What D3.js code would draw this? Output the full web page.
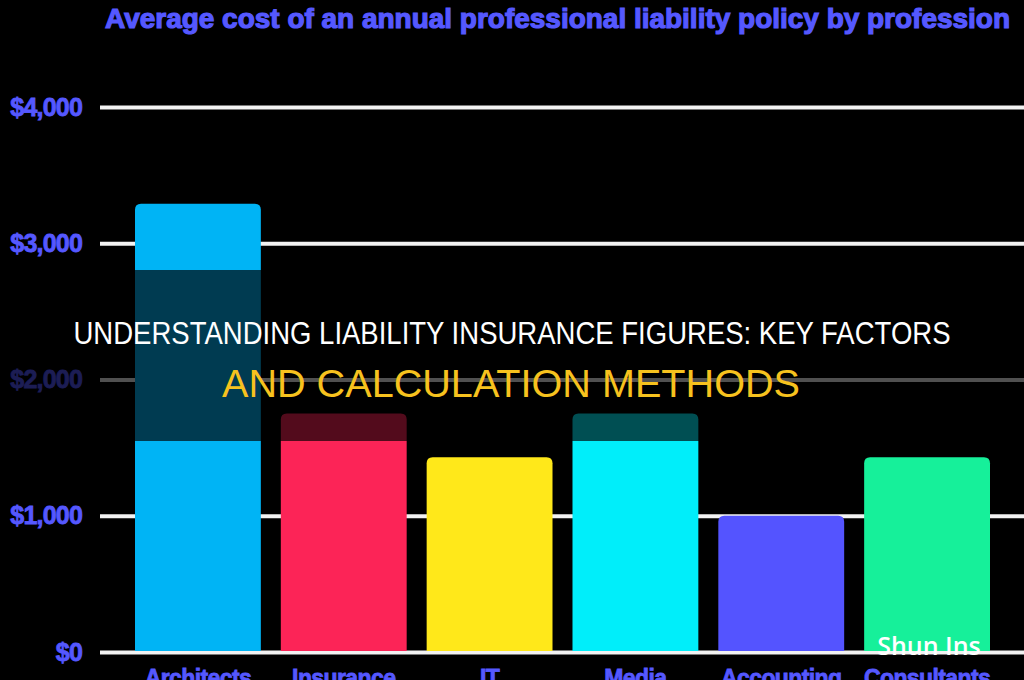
<!DOCTYPE html>
<html>
<head>
<meta charset="utf-8">
<script src="https://cdn.jsdelivr.net/npm/d3@7"></script>
<style>
  html, body { margin: 0; padding: 0; background: #000; }
  svg { display: block; }
</style>
</head>
<body>
<div id="canvas"></div>
<script>
var w = 1024;
var h = 680;

// chart data
var professions = ["Architects", "Insurance", "IT", "Media", "Accounting", "Consultants"];
var avgCost = [3290, 1750, 1430, 1750, 1000, 1430];
var barColors = ["#00b4f5", "#fc2457", "#ffe81a", "#00eefa", "#5454ff", "#16f09a"];
var yTicks = [0, 1000, 2000, 3000, 4000];

var chartTitle = "Average cost of an annual professional liability policy by profession";
var headline1 = "UNDERSTANDING LIABILITY INSURANCE FIGURES: KEY FACTORS";
var headline2 = "AND CALCULATION METHODS";

var svg = d3.select("#canvas").append("svg")
        .attr("width", w)
        .attr("height", h)
        .style("background-color", "#000");

var xScale = d3.scaleBand()
        .domain(professions)
        .range([135, 990])
        .paddingInner(0.137)
        .paddingOuter(0);

var yScale = d3.scaleLinear()
        .domain([0, 4000])
        .range([652, 107]);

var blue = "#5558ff";

// title
svg.append("text")
    .attr("x", 105)
    .attr("y", 28)
    .attr("textLength", 905)
    .attr("lengthAdjust", "spacingAndGlyphs")
    .attr("font-family", "Liberation Sans, Arial, sans-serif")
    .attr("font-weight", "bold")
    .attr("font-size", 28)
    .attr("fill", blue)
    .attr("stroke", blue)
    .attr("stroke-width", 1.2)
    .text(chartTitle);

// y axis with gridlines
var yAxis = d3.axisLeft(yScale)
        .tickValues(yTicks)
        .tickSize(-(w - 100))
        .tickPadding(18)
        .tickFormat(function(d){ return "$" + d3.format(",")(d); });

var gAxis = svg.append("g")
        .attr("transform", "translate(100,0)")
        .call(yAxis);
gAxis.select(".domain").remove();
gAxis.selectAll("line")
    .attr("stroke", "#f2f2f2")
    .attr("stroke-width", 4);
gAxis.selectAll("text")
    .attr("fill", blue)
    .attr("stroke", blue)
    .attr("stroke-width", 0.8)
    .attr("font-family", "Liberation Sans, Arial, sans-serif")
    .attr("font-weight", "bold")
    .attr("font-size", 25)
    .attr("letter-spacing", -0.8);

// bars with rounded tops
var r = 6;
function barPath(d, i){
  var x0 = xScale(professions[i]);
  var bw = xScale.bandwidth();
  var y0 = yScale(d);
  var yb = yScale(0) - 1;
  return "M" + x0 + "," + yb +
         "L" + x0 + "," + (y0 + r) +
         "Q" + x0 + "," + y0 + " " + (x0 + r) + "," + y0 +
         "L" + (x0 + bw - r) + "," + y0 +
         "Q" + (x0 + bw) + "," + y0 + " " + (x0 + bw) + "," + (y0 + r) +
         "L" + (x0 + bw) + "," + yb + "Z";
}

svg.selectAll("path.bar")
    .data(avgCost)
    .join("path")
    .attr("class", "bar")
    .attr("d", barPath)
    .attr("fill", function(d, i){ return barColors[i]; });

// category labels (partly below the bottom edge, as in the source)
svg.selectAll("text.cat")
    .data(professions)
    .join("text")
    .attr("class", "cat")
    .attr("x", function(d){ return xScale(d) + xScale.bandwidth() / 2; })
    .attr("y", 686)
    .attr("text-anchor", "middle")
    .attr("font-family", "Liberation Sans, Arial, sans-serif")
    .attr("font-weight", "bold")
    .attr("font-size", 23)
    .attr("letter-spacing", -0.6)
    .attr("fill", blue)
    .attr("stroke", blue)
    .attr("stroke-width", 0.8)
    .text(function(d){ return d; });

// watermark
svg.append("text")
    .attr("x", 929)
    .attr("y", 655)
    .attr("text-anchor", "middle")
    .attr("font-family", "Open Sans, sans-serif")
    .attr("font-weight", 600)
    .attr("font-size", 25)
    .attr("fill", "#ffffff")
    .text("Shun Ins");

// dark headline band
svg.append("rect")
    .attr("x", 0)
    .attr("y", 270)
    .attr("width", w)
    .attr("height", 171)
    .attr("fill", "#000")
    .attr("fill-opacity", 0.67);

svg.append("text")
    .attr("x", w / 2)
    .attr("y", 344)
    .attr("text-anchor", "middle")
    .attr("textLength", 877)
    .attr("lengthAdjust", "spacingAndGlyphs")
    .attr("font-family", "Liberation Sans, Arial, sans-serif")
    .attr("font-size", 31)
    .attr("fill", "#ffffff")
    .text(headline1);

svg.append("text")
    .attr("x", 511)
    .attr("y", 397)
    .attr("text-anchor", "middle")
    .attr("textLength", 578)
    .attr("lengthAdjust", "spacingAndGlyphs")
    .attr("font-family", "Liberation Sans, Arial, sans-serif")
    .attr("font-size", 38)
    .attr("fill", "#f7c21e")
    .text(headline2);
</script>
</body>
</html>
